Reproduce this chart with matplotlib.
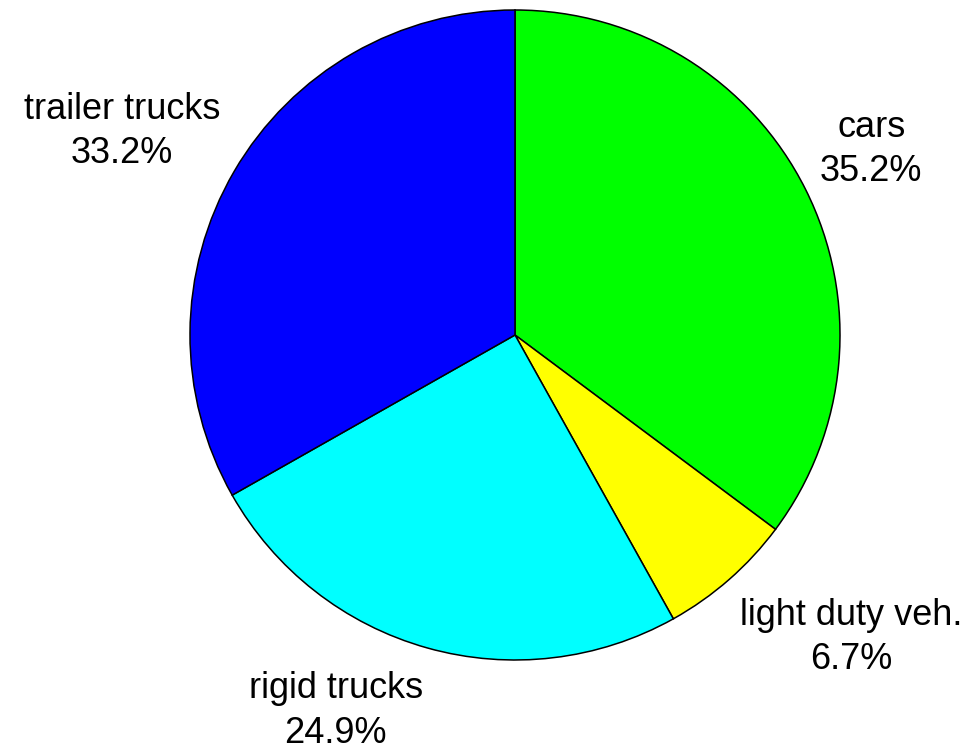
import matplotlib
matplotlib.use("Agg")
import matplotlib.pyplot as plt
import numpy as np

# slice data, clockwise from the top
labels = ["cars", "light duty veh.", "rigid trucks", "trailer trucks"]
shares = [35.2, 6.7, 24.9, 33.2]
colors = ["#00ff00", "#ffff00", "#00ffff", "#0000ff"]

plt.rcParams['font.family'] = ['Liberation Sans', 'DejaVu Sans']

fig = plt.figure(figsize=(9.74, 7.49), dpi=100)
ax = fig.add_axes([190/974, 89/749, 650/974, 650/749])

wedges, _ = ax.pie(shares, colors=colors, startangle=90, counterclock=False,
                   radius=1.0, wedgeprops=dict(edgecolor='black', linewidth=1.1))

# labels placed outside, aligned by quadrant
for w, lab, val in zip(wedges, labels, shares):
    mid = np.deg2rad((w.theta1 + w.theta2) / 2)
    c, s = np.cos(mid), np.sin(mid)
    x = 1.05 * c
    if s > 0:
        y, va = 1.0 * s, 'bottom'
    else:
        y, va = 1.075 * s, 'top'
    ha = 'left' if c > 0 else 'right'
    ax.text(x, y, "%s\n%.1f%%" % (lab, val), ha=ha, va=va, multialignment='center',
            fontsize=26, linespacing=1.35, clip_on=False)

ax.set_xlim(-1, 1)
ax.set_ylim(-1, 1)
ax.set_aspect('equal')
ax.axis('off')

fig.savefig("out.png", dpi=100)
